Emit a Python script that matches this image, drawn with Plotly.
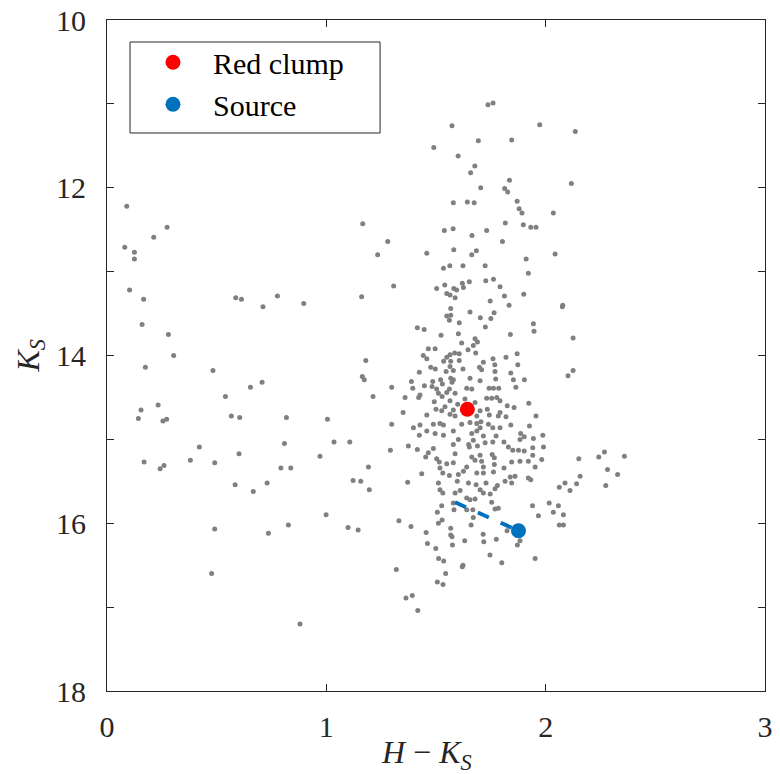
import plotly.graph_objects as go

# Field stars in the colour-magnitude diagram: H-Ks colour and Ks magnitude
hk = [
    # bluer foreground stars
    0.090, 0.274, 0.213, 0.081, 0.125, 0.125, 0.103, 0.167, 0.587, 0.613,
    0.711, 0.777, 0.897, 0.160, 0.280, 0.304, 0.175, 0.483, 0.707, 0.654,
    0.540, 0.233, 0.155, 0.143, 0.255, 0.272, 0.567, 0.605, 0.818, 1.005,
    1.035, 0.421, 0.809, 0.169, 0.380, 0.242, 0.260, 0.491, 0.602, 0.793,
    0.838, 0.971, 0.584, 0.667, 0.730, 0.999, 0.491, 0.736, 0.827, 0.477,
    0.880,
    1.166, 1.280, 1.234, 1.307, 1.161, 1.180, 1.164, 1.173, 1.298, 1.213,
    1.298, 1.107, 1.292, 1.192, 1.122, 1.157, 1.196, 1.099, 1.145, 1.331,
    1.319,
    # bright giants
    1.737, 1.760, 1.573, 1.973, 2.135, 1.693, 1.845, 1.490, 1.601, 1.677,
    1.658, 1.835, 2.117, 1.704, 1.813, 1.827, 1.870, 1.579, 1.643, 1.674,
    1.879, 1.892, 2.035, 1.816, 1.898, 1.932, 1.956, 1.538, 1.578, 1.664,
    1.731, 1.803, 1.458, 1.581, 1.663, 1.684, 1.911, 2.043, 1.534, 1.563,
    1.623, 1.724, 1.921, 1.503, 1.540, 1.581, 1.594, 1.620, 1.625, 1.652,
    1.727, 1.762, 1.792,
    # bulge giants around the red clump
    1.549, 1.564, 1.587, 1.812, 1.900, 1.747, 1.833, 2.078, 2.076, 1.567,
    1.655, 1.765, 1.549, 1.567, 1.561, 1.702, 1.750, 1.606, 1.415, 1.446,
    1.725, 1.944, 1.947, 1.523, 1.602, 1.839, 2.125, 1.678, 1.689, 1.617,
    1.670, 1.465, 1.496, 1.646, 1.585, 1.606, 1.564, 1.681, 1.442, 1.458,
    1.549, 1.870, 1.819, 1.760, 1.606, 1.535, 1.567, 1.716, 1.873, 1.768,
    1.476, 1.497, 1.564, 1.623, 1.698, 1.708, 1.546, 1.579, 1.424, 1.769,
    1.841, 2.102, 2.125, 1.567, 1.521, 1.579, 1.655, 1.701, 1.772, 1.853,
    1.903, 1.388, 1.485, 1.573, 1.529, 1.482, 1.447, 1.394, 1.503, 1.561,
    1.640, 1.663, 1.742, 1.762, 1.786, 1.864, 1.511, 1.549, 1.587, 1.427,
    1.359, 1.421, 1.528, 1.731, 1.754, 1.777, 1.792, 1.492, 1.564, 1.599,
    1.632, 1.678, 1.825, 1.856, 1.923, 1.541, 1.500, 1.526, 1.579, 1.701,
    1.734, 1.792, 1.350, 1.458, 1.564, 1.587, 1.686, 1.743, 1.784, 1.819,
    1.956,
    # fainter bulge stars
    1.397, 1.427, 1.458, 1.488, 1.518, 1.534, 1.496, 1.534, 1.424, 1.579,
    1.617, 1.655, 1.686, 1.705, 1.663, 1.686, 1.701, 1.716, 1.739, 1.759,
    1.792, 1.841, 1.774, 1.602, 1.579, 1.649, 1.670, 1.724, 1.759, 1.810,
    1.886, 1.902, 1.926, 1.944, 1.987, 1.883, 1.374, 1.415, 1.465, 1.488,
    1.453, 1.587, 1.652, 1.689, 1.830, 1.850, 1.876, 1.902, 1.941, 1.941,
    1.990, 1.756, 1.766, 1.663, 1.701, 1.503, 1.515, 1.549, 1.579, 1.678,
    1.708, 1.845, 1.883, 1.921, 1.982, 2.151, 1.766, 1.518, 1.640, 1.716,
    1.952, 1.810, 1.531, 1.435, 1.561, 1.602, 1.625, 1.686, 1.716, 1.762,
    1.838, 1.860, 1.921, 1.932, 2.157, 1.371, 1.511, 1.597, 1.648, 1.683,
    1.728, 1.815, 1.845, 2.088, 2.141, 2.062, 2.111, 1.518, 1.531, 1.587,
    1.610, 1.701, 1.716, 1.747, 1.769, 1.780, 1.640, 1.655, 1.678, 1.754,
    1.579, 1.526, 1.940, 2.016, 2.058, 1.582, 1.640, 1.668, 1.769, 1.784,
    2.035, 2.081, 1.967, 1.506, 1.528, 1.670,
    1.386, 1.511, 1.567, 1.660, 1.455, 1.567, 1.573, 1.715, 1.775, 1.824,
    1.883, 1.871, 2.062, 2.081, 1.461, 1.499, 1.575, 1.631, 1.718, 1.512,
    1.535, 1.746, 1.800, 1.952, 1.623, 1.620, 1.544, 1.506, 1.532, 1.363,
    1.392, 1.417,
    # reddest stars
    2.268, 2.242, 2.359, 2.282, 2.328, 2.274,
]

ks = [
    12.22, 12.47, 12.59, 12.71, 12.77, 12.85, 13.22, 13.33, 13.31, 13.33,
    13.42, 13.29, 13.38, 13.63, 13.75, 14.00, 14.14, 14.18, 14.32, 14.38,
    14.49, 14.59, 14.65, 14.75, 14.78, 14.76, 14.72, 14.74, 14.74, 14.76,
    15.03, 15.09, 15.05, 15.27, 15.25, 15.35, 15.31, 15.28, 15.17, 15.34,
    15.34, 15.20, 15.54, 15.62, 15.52, 15.90, 16.07, 16.12, 16.02, 16.60,
    17.20,
    12.43, 12.64, 12.80, 13.17, 13.30, 14.06, 14.25, 14.29, 14.38, 14.49,
    14.82, 15.03, 15.13, 15.33, 15.49, 15.50, 15.60, 16.05, 16.08, 15.97,
    16.55,
    11.01, 10.99, 11.26, 11.25, 11.33, 11.44, 11.43, 11.52, 11.62, 11.74,
    11.82, 11.91, 11.95, 12.00, 12.01, 12.05, 12.16, 12.18, 12.17, 12.18,
    12.25, 12.30, 12.30, 12.42, 12.44, 12.47, 12.47, 12.51, 12.49, 12.57,
    12.51, 12.64, 12.78, 12.74, 12.80, 12.75, 12.85, 12.79, 12.96, 12.93,
    12.93, 12.93, 13.02, 13.20, 13.16, 13.20, 13.22, 13.14, 13.19, 13.12,
    13.11, 13.09, 13.18,
    13.26, 13.28, 13.31, 13.29, 13.27, 13.35, 13.40, 13.40, 13.42, 13.44,
    13.48, 13.49, 13.53, 13.52, 13.58, 13.55, 13.56, 13.61, 13.67, 13.69,
    13.66, 13.62, 13.71, 13.76, 13.74, 13.75, 13.79, 13.80, 13.84, 13.85,
    13.88, 13.92, 13.92, 13.93, 13.97, 13.98, 13.99, 13.97, 14.00, 14.04,
    14.02, 13.98, 14.02, 14.04, 14.06, 14.07, 14.07, 14.08, 14.11, 14.11,
    14.14, 14.16, 14.13, 14.16, 14.14, 14.17, 14.19, 14.18, 14.20, 14.19,
    14.21, 14.24, 14.18, 14.27, 14.29, 14.29, 14.27, 14.30, 14.28, 14.29,
    14.29, 14.31, 14.31, 14.32, 14.34, 14.37, 14.36, 14.39, 14.40, 14.40,
    14.39, 14.40, 14.39, 14.39, 14.39, 14.38, 14.45, 14.44, 14.45, 14.47,
    14.50, 14.50, 14.49, 14.51, 14.51, 14.50, 14.54, 14.55, 14.54, 14.58,
    14.52, 14.56, 14.60, 14.62, 14.57, 14.61, 14.64, 14.66, 14.65, 14.66,
    14.64, 14.68, 14.68, 14.71, 14.70, 14.72, 14.72, 14.71, 14.72, 14.73,
    14.72,
    14.86, 14.83, 14.90, 14.82, 14.81, 14.83, 14.93, 14.95, 14.95, 14.90,
    14.82, 14.80, 14.81, 14.79, 14.93, 14.90, 14.86, 14.96, 14.82, 14.86,
    14.86, 14.83, 14.96, 15.00, 15.06, 15.06, 15.01, 15.04, 15.03, 15.03,
    14.93, 14.97, 14.84, 14.99, 14.95, 15.00, 15.08, 15.12, 15.16, 15.11,
    15.21, 15.17, 15.09, 15.08, 15.09, 15.13, 15.13, 15.14, 15.10, 15.19,
    15.09, 15.18, 15.22, 15.21, 15.19, 15.23, 15.27, 15.29, 15.28, 15.25,
    15.26, 15.27, 15.26, 15.26, 15.24, 15.23, 15.30, 15.34, 15.33, 15.33,
    15.33, 15.34, 15.40, 15.41, 15.43, 15.42, 15.38, 15.40, 15.40, 15.39,
    15.45, 15.44, 15.46, 15.48, 15.44, 15.51, 15.52, 15.50, 15.52, 15.54,
    15.52, 15.50, 15.52, 15.52, 15.53, 15.57, 15.61, 15.60, 15.64, 15.64,
    15.61, 15.60, 15.64, 15.65, 15.59, 15.55, 15.70, 15.72, 15.71, 15.75,
    15.76, 15.79, 15.79, 15.76, 15.79, 15.84, 15.84, 15.84, 15.83, 15.82,
    15.87, 15.90, 15.91, 15.87, 15.96, 15.93,
    16.04, 16.00, 16.06, 16.02, 16.11, 16.14, 16.16, 16.13, 16.19, 16.09,
    16.21, 16.26, 16.02, 16.02, 16.24, 16.30, 16.26, 16.21, 16.22, 16.42,
    16.45, 16.38, 16.47, 16.42, 16.50, 16.52, 16.60, 16.70, 16.73, 16.89,
    16.86, 17.04,
    15.15, 15.21, 15.20, 15.36, 15.42, 15.55,
]

# Red clump centroid and the source
red_clump_hk = [1.643]
red_clump_ks = [14.64]
source_hk = [1.876]
source_ks = [16.09]

# Dashed track ending at the source
track_hk = [1.587, 1.876]
track_ks = [15.75, 16.09]

x_ticks = [0, 1, 2, 3]
y_ticks = [10, 12, 14, 16, 18]

FONT = "Liberation Serif, Times New Roman, Times, DejaVu Serif, serif"
INK = "#262626"

fig = go.Figure()

fig.add_trace(go.Scatter(
    x=hk, y=ks, mode="markers",
    marker=dict(size=5, color="#808080", line=dict(width=0)),
    showlegend=False, hoverinfo="skip",
))

fig.add_trace(go.Scatter(
    x=track_hk, y=track_ks, mode="lines",
    line=dict(color="#0072BD", width=4, dash="12px,13px"),
    showlegend=False, hoverinfo="skip",
))

fig.add_trace(go.Scatter(
    x=red_clump_hk, y=red_clump_ks, mode="markers", name="Red clump",
    marker=dict(size=15, color="#FF0000", line=dict(width=0)),
))

fig.add_trace(go.Scatter(
    x=source_hk, y=source_ks, mode="markers", name="Source",
    marker=dict(size=15, color="#0072BD", line=dict(width=0)),
))

axis_common = dict(
    showgrid=False, zeroline=False, automargin=False,
    showline=True, linecolor=INK, linewidth=1, mirror="ticks",
    ticks="inside", ticklen=7, tickwidth=1, tickcolor=INK,
    tickfont=dict(family=FONT, size=30, color=INK),
)

fig.update_xaxes(
    range=[0, 3], tickmode="array", tickvals=x_ticks,
    ticklabelstandoff=9, **axis_common,
)
fig.update_yaxes(
    range=[18, 10], tickmode="array", tickvals=y_ticks,
    minor=dict(dtick=1, tick0=10, ticks="inside", ticklen=7, tickcolor=INK),
    ticklabelstandoff=14, **axis_common,
)

# Legend frame
fig.add_shape(
    type="rect", xref="paper", yref="paper",
    x0=0.035, x1=0.415, y0=0.8316, y1=0.9672,
    line=dict(color=INK, width=1), fillcolor="rgba(0,0,0,0)",
)

fig.add_annotation(
    text="<i>H</i> − <i>K<sub>S</sub></i>",
    xref="paper", yref="paper", x=0.5, y=0, xanchor="center", yanchor="top",
    xshift=-10, yshift=-41, showarrow=False,
    font=dict(family=FONT, size=32, color=INK),
)
fig.add_annotation(
    text="<i>K<sub>S</sub></i>",
    xref="paper", yref="paper", x=0, y=0.5, xanchor="center", yanchor="middle",
    xshift=-77, textangle=-90, showarrow=False,
    font=dict(family=FONT, size=32, color=INK),
)

fig.update_layout(
    width=780, height=774,
    margin=dict(l=107, r=15, t=20, b=83),
    paper_bgcolor="white", plot_bgcolor="white",
    font=dict(family=FONT, color=INK),
    legend=dict(
        x=0.0395, y=0.9758, xanchor="left", yanchor="top",
        itemwidth=70,
        bgcolor="rgba(0,0,0,0)", borderwidth=0,
        font=dict(family=FONT, size=30, color="#000000"),
    ),
)

fig.write_html("out.html")
